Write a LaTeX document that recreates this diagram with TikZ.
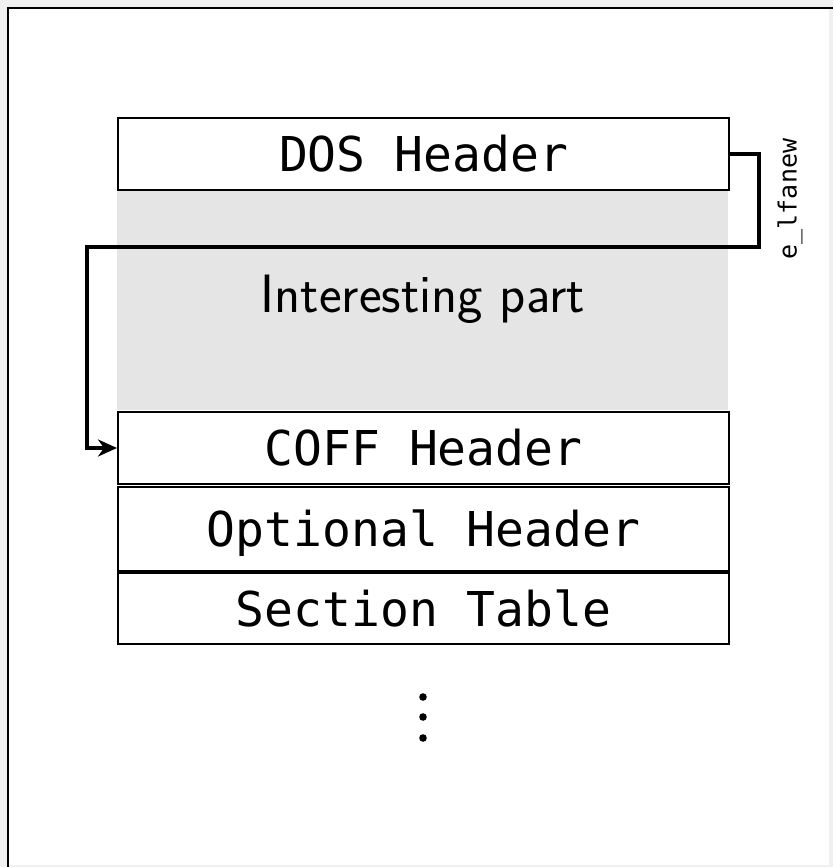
\documentclass[tikz,border=0pt]{standalone}
\usepackage{fontspec}
\newfontfamily\monof{DejaVu Sans Mono}
\usetikzlibrary{arrows.meta}
\definecolor{outerbg}{HTML}{F0F0F0}
\definecolor{midgrey}{HTML}{E5E5E5}
\begin{document}
\begin{tikzpicture}[x=1pt,y=-1pt,
  hbox/.style={draw=black, line width=2pt, fill=white, minimum width=611pt,
    inner sep=0pt, anchor=north west, text height=35pt, text depth=0pt,
    font=\monof\fontsize{48}{50}\selectfont},
  conn/.style={line width=3.6pt, -{Stealth[length=19pt,width=17pt,inset=6pt]}},
  dotmark/.style={fill=black}
]
\useasboundingbox (0,0) rectangle (833,867);
\fill[outerbg] (0,0) rectangle (833,867);
\fill[white] (8,8) rectangle (829,865);
\draw[line width=2.4pt] (8,867) -- (8,8) -- (833,8);

% grey region
\node[fill=midgrey, minimum width=611pt, minimum height=221pt, inner sep=0pt,
  anchor=north west, font=\sffamily\fontsize{54}{58}\selectfont] (interesting) at (117,189) {Interesting part};

\node[hbox, minimum height=72pt] (dos) at (117,117) {DOS Header};
\node[hbox, minimum height=72pt] (coff) at (117,411) {COFF Header};
\node[hbox, minimum height=84pt] (opt) at (117,486) {Optional Header};
\node[hbox, minimum height=71pt] (sect) at (117,572) {Section Table};

\coordinate (r1) at (759,247);
\coordinate (l1) at (87,247);
\draw[conn] (dos.east) -| (r1) -- (l1) |- (coff.west);

\node[rotate=90, font=\monof\fontsize{25}{27}\selectfont, inner sep=0pt] (lbl) at (790,199) {e\_lfanew};

\fill[dotmark] (423,697) circle (3.8);
\fill[dotmark] (423,717) circle (3.8);
\fill[dotmark] (423,738) circle (3.8);
\end{tikzpicture}
\end{document}
